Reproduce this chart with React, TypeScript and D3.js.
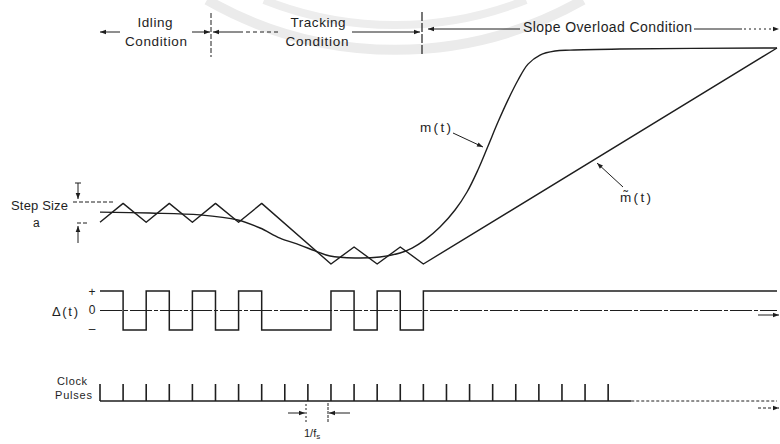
import React from 'react';
import * as d3 from 'd3';

// ---- data (time in clock periods, amplitude in arbitrary units) ----
const clockTimes = [0, 1, 2, 3, 4, 5, 6, 7, 8, 9, 10, 11, 12, 13, 14, 15, 16, 17, 18, 19, 20, 21, 22];
const clockSolidEnd = 23;
const timeEnd = 29.31;

const deltaEdges = [0, 1, 2, 3, 4, 5, 6, 7, 10, 11, 12, 13, 14, 29.31];
const deltaLevels = [1, -1, 1, -1, 1, -1, 1, -1, 1, -1, 1, -1, 1];

const approxTimes = [0, 1, 2, 3, 4, 5, 6, 7, 10, 11, 12, 13, 14, 29.31];
const approxValues = [2.2, 3.2, 2.2, 3.2, 2.2, 3.2, 2.2, 3.2, 0, 0.9, 0, 0.9, 0, 11.4];

const messageTimes = [0, 2.16, 4.33, 5.97, 6.93, 7.79, 8.66, 9.31, 9.96, 11.04, 12.12, 12.99, 13.51, 14.07, 14.72, 15.37, 15.89, 16.36, 16.8, 17.23, 17.66, 18.1, 18.53, 19.05, 19.7, 20.35, 22.51, 29.31];
const messageValues = [2.74, 2.69, 2.59, 2.32, 1.9, 1.37, 1.0, 0.69, 0.42, 0.32, 0.37, 0.58, 0.84, 1.27, 1.95, 2.85, 3.8, 4.96, 6.23, 7.49, 8.65, 9.71, 10.55, 11.03, 11.24, 11.29, 11.35, 11.4];

const phaseLabels = ['Idling', 'Condition', 'Tracking', 'Condition', 'Slope Overload Condition'];
const levelLabels = ['+', '0', '–'];

const INK = '#1e1e1e';
const FONT = '"Liberation Sans", Arial, sans-serif';

function head(x: number, y: number, ang: number, len = 6, hw = 2.3) {
  const c = Math.cos(ang), s = Math.sin(ang);
  const bx = x - c * len, by = y - s * len;
  return `M${x},${y}L${bx - s * hw},${by + c * hw}L${bx + s * hw},${by - c * hw}Z`;
}

function Arrow({ x1, y1, x2, y2, dash }: { x1: number; y1: number; x2: number; y2: number; dash?: string }) {
  const ang = Math.atan2(y2 - y1, x2 - x1);
  return (
    <g>
      <line x1={x1} y1={y1} x2={x2} y2={y2} stroke={INK} strokeWidth={1} strokeDasharray={dash} />
      <path d={head(x2, y2, ang)} fill={INK} />
    </g>
  );
}

function T({ x, y, s, size = 13, len, anchor = 'start', children }: any) {
  return (
    <text x={x} y={y} fontSize={size} fontFamily={FONT} fill={INK} textAnchor={anchor}
      textLength={len} lengthAdjust={len ? 'spacing' : undefined}>
      {children ?? s}
    </text>
  );
}

export default function App() {
  const x = d3.scaleLinear().domain([0, timeEnd]).range([100, 777]);
  const y = d3.scaleLinear().domain([0, 11.4]).range([264, 48]);
  const yD = d3.scaleLinear().domain([-1, 1]).range([330, 291]);
  const yC = d3.scaleLinear().domain([0, 1]).range([401, 384]);

  const approxPts: [number, number][] = approxTimes.map((t, i) => [t, approxValues[i]]);
  const msgPts: [number, number][] = messageTimes.map((t, i) => [t, messageValues[i]]);
  const approxPath = d3.line<[number, number]>().x(d => x(d[0])).y(d => y(d[1])).curve(d3.curveLinear)(approxPts) || '';
  const msgPath = d3.line<[number, number]>().x(d => x(d[0])).y(d => y(d[1])).curve(d3.curveCatmullRom.alpha(0.5))(msgPts) || '';

  const deltaPts: [number, number][] = deltaLevels.map((l, i) => [deltaEdges[i], l]);
  deltaPts.push([deltaEdges[deltaEdges.length - 1], deltaLevels[deltaLevels.length - 1]]);
  const deltaPath = d3.line<[number, number]>().x(d => x(d[0])).y(d => yD(d[1])).curve(d3.curveStepAfter)(deltaPts) || '';

  return (
    <svg width={780} height={444} style={{ position: 'absolute', left: 0, top: 0, background: '#fff' }}>
      {/* watermark arcs */}
      <path d="M207,0 A380,380 0 0 0 583,0" fill="none" stroke="#ebebeb" strokeWidth={10} />
      <path d="M264,0 A355,355 0 0 0 526,0" fill="none" stroke="#ededed" strokeWidth={8} />

      {/* header: phases */}
      <T x={155} y={27} size={13.5} len={35} anchor="middle" s={phaseLabels[0]} />
      <T x={156} y={46} size={13.5} len={62} anchor="middle" s={phaseLabels[1]} />
      <T x={318} y={27} size={13.5} len={55} anchor="middle" s={phaseLabels[2]} />
      <T x={317} y={46} size={13.5} len={63} anchor="middle" s={phaseLabels[3]} />
      <T x={523} y={32} size={14} len={169} s={phaseLabels[4]} />
      <line x1={211} y1={13} x2={211} y2={57} stroke={INK} strokeWidth={1} strokeDasharray="5 2" />
      <line x1={422} y1={12} x2={422} y2={55} stroke={INK} strokeWidth={1.2} strokeDasharray="9 2" />
      <Arrow x1={120} y1={32} x2={100} y2={32} />
      <Arrow x1={192} y1={32} x2={210} y2={32} />
      <Arrow x1={243} y1={32} x2={213} y2={32} />
      <line x1={246} y1={32} x2={278} y2={32} stroke={INK} strokeWidth={1} strokeDasharray="4 3" />
      <Arrow x1={352} y1={32} x2={420} y2={32} />
      <Arrow x1={520} y1={29} x2={428} y2={29} />
      <line x1={694} y1={29} x2={742} y2={29} stroke={INK} strokeWidth={1} />
      <Arrow x1={744} y1={29} x2={779} y2={29} dash="2 3" />

      {/* message and approximation */}
      <path d={msgPath} fill="none" stroke={INK} strokeWidth={1.4} />
      <path d={approxPath} fill="none" stroke={INK} strokeWidth={1.4} strokeLinejoin="round" />
      <T x={420} y={132} size={13.5} len={31} s="m(t)" />
      <Arrow x1={453} y1={133} x2={483} y2={147} />
      <T x={620} y={202} size={13.5} len={31} s={'m\u0303(t)'} />
      <Arrow x1={623} y1={187} x2={597} y2={163} />

      {/* step size annotation */}
      <T x={11} y={210} size={13} len={57} s="Step Size" />
      <T x={33} y={227} size={12} s="a" />
      <line x1={73} y1={202} x2={113} y2={202} stroke={INK} strokeWidth={1} strokeDasharray="4 2" />
      <line x1={77} y1={223} x2={89} y2={223} stroke={INK} strokeWidth={1} strokeDasharray="4 2" />
      <line x1={75} y1={183} x2={81} y2={183} stroke={INK} strokeWidth={1} />
      <Arrow x1={78} y1={183} x2={78} y2={199} />
      <Arrow x1={78} y1={243} x2={78} y2={226} />

      {/* delta(t) */}
      <T x={52} y={316} size={13} len={26} s={'\u0394(t)'} />
      <T x={92} y={296} size={12} anchor="middle" s={levelLabels[0]} />
      <T x={92} y={314} size={12} anchor="middle" s={levelLabels[1]} />
      <T x={92} y={333} size={12} anchor="middle" s={levelLabels[2]} />
      <line x1={x(0)} y1={yD(0)} x2={x(timeEnd)} y2={yD(0)} stroke={INK} strokeWidth={1} strokeDasharray="22 2 4 2" />
      <path d={deltaPath} fill="none" stroke={INK} strokeWidth={1.5} />
      <Arrow x1={758} y1={315} x2={779} y2={315} />

      {/* clock pulses */}
      <T x={57} y={385} size={11} len={30} s="Clock" />
      <T x={55} y={399} size={11} len={37} s="Pulses" />
      <line x1={x(0)} y1={yC(0)} x2={x(clockSolidEnd)} y2={yC(0)} stroke={INK} strokeWidth={1.3} />
      <line x1={x(clockSolidEnd)} y1={yC(0)} x2={x(timeEnd)} y2={yC(0)} stroke={INK} strokeWidth={1} strokeDasharray="3 2" />
      {clockTimes.map(t => (
        <line key={t} x1={x(t)} y1={yC(0)} x2={x(t)} y2={yC(1)} stroke={INK} strokeWidth={1.6} />
      ))}
      <Arrow x1={758} y1={408} x2={779} y2={408} dash="3 2" />

      {/* 1/fs */}
      <Arrow x1={288} y1={413} x2={305} y2={413} />
      <line x1={306} y1={404} x2={306} y2={423} stroke={INK} strokeWidth={1} strokeDasharray="2 2" />
      <line x1={328} y1={403} x2={328} y2={422} stroke={INK} strokeWidth={1} strokeDasharray="3 1" />
      <Arrow x1={350} y1={413} x2={329} y2={413} />
      <text x={304} y={437} fontSize={11} fontFamily={FONT} fill={INK}>1/f<tspan fontSize={8} dy={2}>s</tspan></text>
    </svg>
  );
}
